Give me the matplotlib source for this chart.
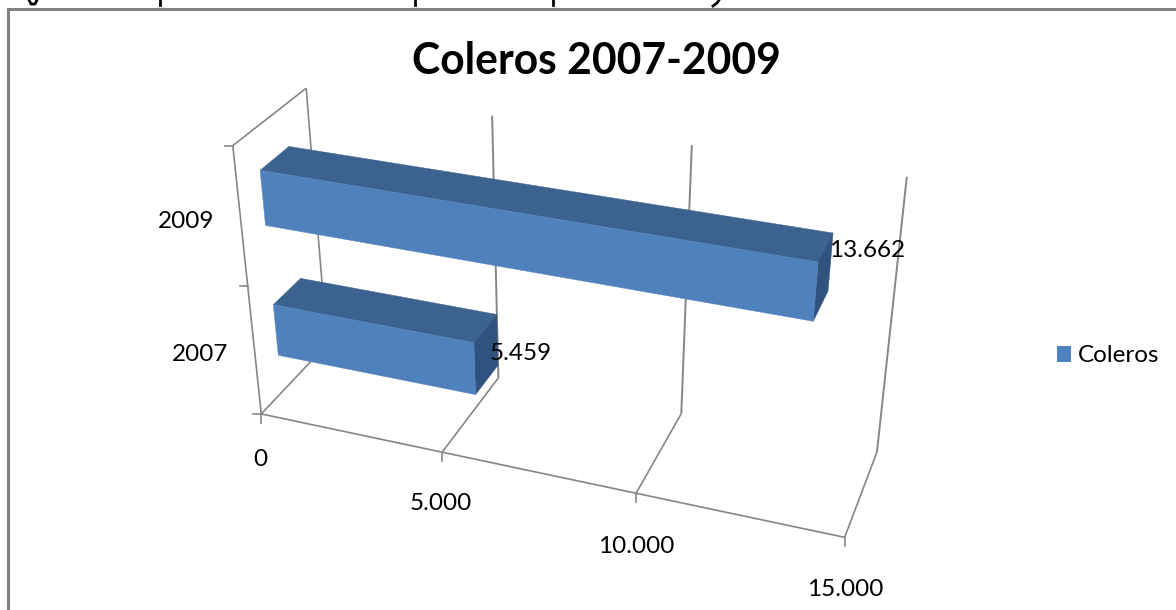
import matplotlib
matplotlib.use('Agg')
import matplotlib.pyplot as plt
import numpy as np

categories = ['2007', '2009']
values = [5459, 13662]
value_ticks = [0, 5000, 10000, 15000]
value_labels = ['0', '5.000', '10.000', '15.000']
value_text = ['5.459', '13.662']
series_name = 'Coleros'
title = 'Coleros 2007-2009'

# x = value, y = depth (0 front, 1 back), z = height up the category axis
# anchors measured on the picture, the camera matrix is fitted from them
anchors = [
    (0, 0, 0, 260.7, 413.3), (5000, 0, 0, 443, 453), (10000, 0, 0, 636, 491.7), (15000, 0, 0, 845, 537.7),
    (0, 1, 0, 327, 345), (5000, 1, 0, 498.5, 377), (10000, 1, 0, 681, 414), (15000, 1, 0, 876.7, 452.7),
    (0, 1, 1, 306.7, 88), (5000, 1, 1, 492.3, 115), (10000, 1, 1, 691.7, 145), (15000, 1, 1, 906.7, 176.7),
    (0, 0, 1, 232.3, 146.7),
]


def fit_camera(points):
    rows = []
    for x, y, z, u, v in points:
        x = x / 15000
        rows.append([x, y, z, 1, 0, 0, 0, 0, -u * x, -u * y, -u * z, -u])
        rows.append([0, 0, 0, 0, x, y, z, 1, -v * x, -v * y, -v * z, -v])
    return np.linalg.svd(np.array(rows))[2][-1].reshape(3, 4)


cam = fit_camera(anchors)


def proj(x, y, z):
    p = cam @ np.array([x / 15000, y, z, 1])
    return p[0] / p[2], p[1] / p[2]


def line3d(a, b, color='#868686', lw=1.2):
    pa = proj(*a)
    pb = proj(*b)
    ax.plot([pa[0], pb[0]], [pa[1], pb[1]], color=color, lw=lw, solid_capstyle='butt', zorder=2)


def face(points, color):
    ax.fill([proj(*p)[0] for p in points], [proj(*p)[1] for p in points], color=color, lw=0.3, zorder=3)


plt.rcParams['font.family'] = ['Lato', 'DejaVu Sans']

fig = plt.figure(figsize=(11.76, 6.10), dpi=100)
ax = fig.add_axes([0, 0, 1, 1])
ax.set_xlim(0, 1176)
ax.set_ylim(610, 0)
ax.axis('off')

# frame of the chart, cut by the edge of the picture
ax.plot([7.5, 7.5, 1176], [610, 8.5, 8.5], color='#808080', lw=2.2, solid_joinstyle='miter')

# what is left of the caption above the frame, only its descenders show
for x in [160, 415, 553]:
    ax.plot([x, x], [0, 5], color='black', lw=2)
ax.plot([29, 31, 35, 37], [0, 4, 4, 0], color='black', lw=2)
ax.plot([719, 717, 713], [0, 3, 6], color='black', lw=2)

# grid
for t in value_ticks:
    line3d((t, 0, 0), (t, 1, 0))
    if t == 0:
        line3d((t, 1, 0), (t, 1, 1))
    else:
        line3d((t, 1, 0), (t, 1, 1), lw=1.4)
    # tick under the front edge
    pa = proj(t, 0, 0)
    ax.plot([pa[0], pa[0]], [pa[1], pa[1] + 9], color='#868686', lw=1.2)
line3d((0, 0, 0), (15000, 0, 0))
line3d((0, 0, 0), (0, 0, 1))
line3d((0, 0, 1), (0, 1, 1))
for z in [0, 0.5, 1]:
    pa = proj(0, 0, z)
    ax.plot([pa[0] - 8, pa[0]], [pa[1], pa[1]], color='#868686', lw=1.2)

# bars, 2009 is further up so it goes first
depth0, depth1 = 0.3, 0.7
bar_low = [0.15, 0.65]
bar_high = [0.35, 0.85]
for i in [1, 0]:
    v = values[i]
    lo = bar_low[i]
    hi = bar_high[i]
    face([(0, depth0, hi), (v, depth0, hi), (v, depth1, hi), (0, depth1, hi)], '#3C6390')
    face([(v, depth0, lo), (v, depth0, hi), (v, depth1, hi), (v, depth1, lo)], '#30527E')
    face([(0, depth0, lo), (v, depth0, lo), (v, depth0, hi), (0, depth0, hi)], '#4F81BD')

txt = dict(fontsize=17.5, color='black', ha='center', va='center', zorder=4)
ax.text(186, 222, categories[1], **txt)
ax.text(200, 354.5, categories[0], **txt)
ax.text(260, 460, value_labels[0], **txt)
ax.text(441, 504, value_labels[1], **txt)
ax.text(636, 546.5, value_labels[2], **txt)
ax.text(845, 590, value_labels[3], **txt)
ax.text(521, 354, value_text[0], **txt)
ax.text(867, 250.5, value_text[1], **txt)

ax.text(596, 61, title, ha='center', va='center', fontsize=30.7, fontweight='bold')

# legend
ax.fill([1057, 1071, 1071, 1057], [346, 346, 362, 362], color='#4F81BD', lw=0)
ax.text(1118.5, 355.5, series_name, **txt)

fig.savefig('out.png', dpi=100)
